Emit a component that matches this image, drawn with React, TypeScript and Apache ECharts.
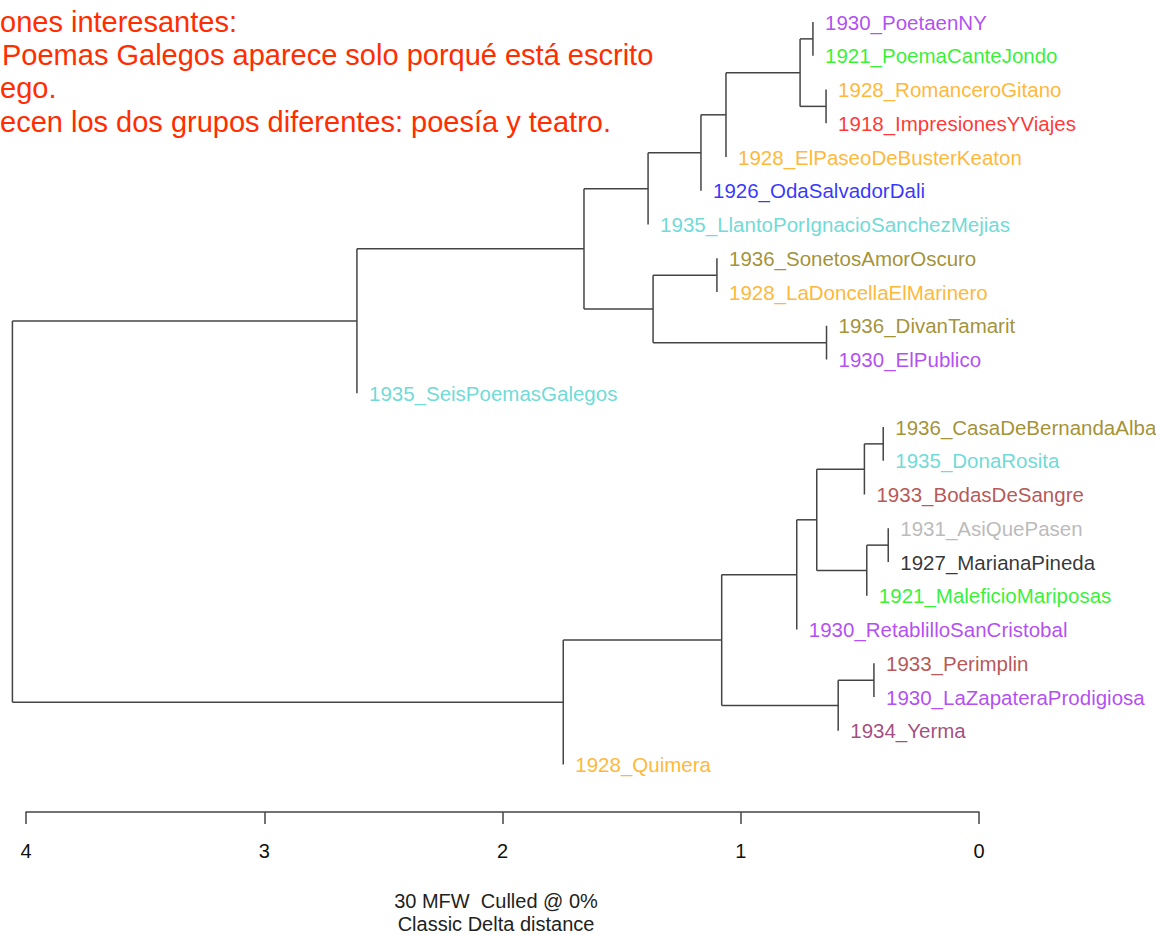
import React, { useEffect, useRef } from "react";
import * as echarts from "echarts";

// ---- data ----
const leafNames = [
  "1930_PoetaenNY",
  "1921_PoemaCanteJondo",
  "1928_RomanceroGitano",
  "1918_ImpresionesYViajes",
  "1928_ElPaseoDeBusterKeaton",
  "1926_OdaSalvadorDali",
  "1935_LlantoPorIgnacioSanchezMejias",
  "1936_SonetosAmorOscuro",
  "1928_LaDoncellaElMarinero",
  "1936_DivanTamarit",
  "1930_ElPublico",
  "1935_SeisPoemasGalegos",
  "1936_CasaDeBernandaAlba",
  "1935_DonaRosita",
  "1933_BodasDeSangre",
  "1931_AsiQuePasen",
  "1927_MarianaPineda",
  "1921_MaleficioMariposas",
  "1930_RetablilloSanCristobal",
  "1933_Perimplin",
  "1930_LaZapateraProdigiosa",
  "1934_Yerma",
  "1928_Quimera",
];

const yearColors: Record<string, string> = {
  "1918": "#FF0000",
  "1921": "#00EE00",
  "1926": "#0000FF",
  "1927": "#000000",
  "1928": "#FFA500",
  "1930": "#A020F0",
  "1931": "#A9A9A9",
  "1933": "#A52A2A",
  "1934": "#8B1C62",
  "1935": "#48D1CC",
  "1936": "#8B7500",
};

// hclust-style merges: negative = leaf (1-based, in display order), positive = earlier merge (1-based)
const mergeLeft = [-16, -13, -20, 1, 2, 3, -10, -3, 5, -1, 10, 9, 11, 12, -8, 13, 15, 16, 18, 14, 19, 21];
const mergeRight = [-17, -14, -21, -18, -15, -22, -11, -4, 4, -2, 8, -19, -5, 6, -9, -6, 7, -7, 17, -23, -12, 20];
const mergeHeight = [
  0.381, 0.402, 0.441, 0.471, 0.481, 0.591, 0.64, 0.642, 0.681, 0.697, 0.751, 0.765, 1.062, 1.08, 1.1, 1.167,
  1.368, 1.389, 1.658, 1.745, 2.611, 4.057,
];

const xTickValues = [0, 1, 2, 3, 4];
const noteLines = [
  "ones interesantes:",
  "Poemas Galegos aparece solo porqué está escrito",
  "ego.",
  "ecen los dos grupos diferentes: poesía y teatro.",
];
const captionLines = ["30 MFW  Culled @ 0%", "Classic Delta distance"];

// ---- build tree geometry (in data units) ----
function buildTree() {
  const nodeY: number[] = [];
  const segments: number[][] = [];
  const leaves: { value: number[]; name: string; color: string }[] = [];
  const childY = (ref: number) => (ref < 0 ? -ref - 1 : nodeY[ref - 1]);
  for (let i = 0; i < mergeHeight.length; i++) {
    const h = mergeHeight[i];
    const refs = [mergeLeft[i], mergeRight[i]];
    const ys = refs.map(childY);
    nodeY[i] = (ys[0] + ys[1]) / 2;
    segments.push([h, ys[0], h, ys[1]]);
    refs.forEach((ref, k) => {
      if (ref > 0) {
        segments.push([h, ys[k], mergeHeight[ref - 1], ys[k]]);
      } else {
        const name = leafNames[-ref - 1];
        leaves.push({ value: [h, ys[k]], name, color: yearColors[name.slice(0, 4)] });
      }
    });
  }
  return { segments, leaves };
}

const FONT = '"Liberation Sans", Arial, Helvetica, sans-serif';

export default function App() {
  const ref = useRef<HTMLDivElement>(null);
  useEffect(() => {
    if (!ref.current) return;
    const chart = echarts.init(ref.current, null, { renderer: "svg" });
    const { segments, leaves } = buildTree();
    const lineColor = "#444444";
    const option: any = {
      animation: false,
      backgroundColor: "#ffffff",
      grid: { left: 26, right: 177, top: 22, bottom: 170.5, outerBoundsMode: "none" },
      xAxis: {
        type: "value",
        min: xTickValues[0],
        max: xTickValues[xTickValues.length - 1],
        interval: 1,
        inverse: true,
        position: "bottom",
        offset: 47.5,
        axisLine: { show: true, onZero: false, lineStyle: { color: lineColor, width: 1.5 } },
        axisTick: { show: true, length: 12, lineStyle: { color: lineColor, width: 1.5 } },
        axisLabel: { margin: 29, fontSize: 20, color: "#111", fontFamily: FONT },
        splitLine: { show: false },
      },
      yAxis: { type: "value", min: 0, max: leafNames.length - 1, inverse: true, show: false },
      series: [
        {
          type: "custom",
          clip: false,
          data: segments,
          renderItem: (_params: any, api: any) => {
            const a = api.coord([api.value(0), api.value(1)]);
            const b = api.coord([api.value(2), api.value(3)]);
            return {
              type: "line",
              shape: { x1: a[0], y1: a[1], x2: b[0], y2: b[1] },
              style: { stroke: lineColor, lineWidth: 1.5 },
            };
          },
        },
        {
          type: "scatter",
          symbol: "circle",
          symbolSize: 0.1,
          itemStyle: { color: "rgba(0,0,0,0)" },
          data: leaves.map((l) => ({
            value: l.value,
            name: l.name,
            label: { color: l.color },
          })),
          label: {
            show: true,
            position: "right",
            distance: 12,
            formatter: "{b}",
            fontSize: 20.5,
            fontFamily: FONT,
          },
          silent: true,
        },
      ],
      graphic: [
        ...noteLines.map((t, i) => ({
          type: "text",
          left: i === 1 ? 2 : 0,
          top: 7 + i * 33.4,
          style: { text: t, fill: "#FF2D00", font: `29px ${FONT}` },
        })),
        ...captionLines.map((t, i) => ({
          type: "text",
          x: 496,
          y: 901 + i * 23,
          style: {
            text: t,
            fill: "#222",
            font: `20px ${FONT}`,
            align: "center",
            verticalAlign: "middle",
          },
        })),
      ],
    };
    chart.setOption(option);
    return () => chart.dispose();
  }, []);
  return (
    <div
      ref={ref}
      style={{ position: "fixed", left: 0, top: 0, width: 1156, height: 935, background: "#fff" }}
    />
  );
}
